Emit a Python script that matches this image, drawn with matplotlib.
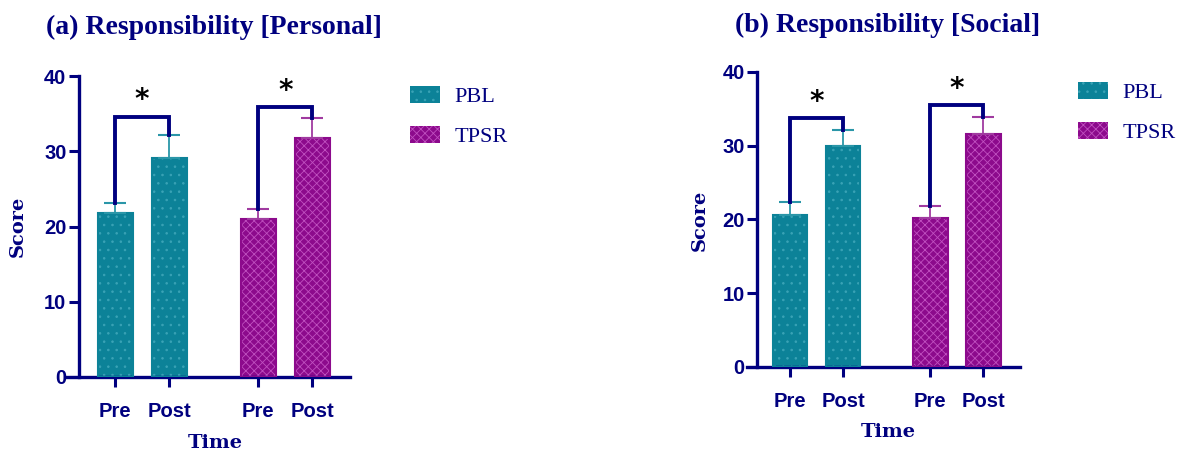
import matplotlib
matplotlib.use("Agg")
import matplotlib.pyplot as plt

# values
groups = ["PBL", "TPSR"]
tick_labels = ["Pre", "Post", "Pre", "Post"]

personal_mean = {"PBL": [21.8, 29.1], "TPSR": [21.0, 31.8]}
personal_err = {"PBL": [1.3, 3.1], "TPSR": [1.3, 2.6]}
social_mean = {"PBL": [20.6, 30.0], "TPSR": [20.2, 31.6]}
social_err = {"PBL": [1.8, 2.1], "TPSR": [1.6, 2.3]}

NAVY = "#00007f"
COLORS = {"PBL": "#0c8298", "TPSR": "#8c0a8c"}
HATCH_COL = {"PBL": "#3aa3b6", "TPSR": "#c050c0"}
HATCHES = {"PBL": "..", "TPSR": "xxxx"}
ERR_COL = {"PBL": "#2a96a8", "TPSR": "#a03aa0"}

plt.rcParams["hatch.linewidth"] = 0.6

positions = {"PBL": [0, 1], "TPSR": [2.65, 3.65]}
W, H = 1180, 454

fig = plt.figure(figsize=(W / 100, H / 100), dpi=100)


def panel(px_left, px_right, px_bottom, px_top, xmin, xmax, yaxis_x,
          means, errs, title, title_xy, score_xy, time_xy, leg_xy, offsets):
    ax = fig.add_axes([px_left / W, 1 - px_bottom / H,
                       (px_right - px_left) / W, (px_bottom - px_top) / H])
    handles = []
    for g in groups:
        b = ax.bar(positions[g], means[g], width=0.65, color=COLORS[g],
                   edgecolor=HATCH_COL[g], hatch=HATCHES[g], linewidth=0,
                   zorder=2)
        # darker outline on top of the hatch
        ax.bar(positions[g], means[g], width=0.65, fill=False,
               edgecolor=COLORS[g], linewidth=1.5, zorder=3)
        ax.errorbar(positions[g], means[g],
                    yerr=[[0, 0], errs[g]], fmt="none", ecolor=ERR_COL[g],
                    elinewidth=1.3, capsize=8, capthick=1.5, zorder=4)
        handles.append(b)

    # significance brackets
    for g, off in zip(groups, offsets):
        x0, x1 = positions[g]
        tops = [m + e for m, e in zip(means[g], errs[g])]
        yb = max(tops) + off
        ax.plot([x0, x0, x1, x1], [tops[0], yb, yb, tops[1]], color=NAVY,
                lw=2.8, solid_joinstyle="miter", zorder=5)
        ax.text((x0 + x1) / 2, yb + 0.3, "*", ha="center", va="bottom",
                fontsize=20, fontweight="bold", color="black")

    ax.set_xlim(xmin, xmax)
    ax.set_ylim(0, 40)
    ax.spines["left"].set_position(("data", yaxis_x))
    ax.spines["top"].set_visible(False)
    ax.spines["right"].set_visible(False)
    for s in ["left", "bottom"]:
        ax.spines[s].set_color(NAVY)
        ax.spines[s].set_linewidth(2.4)
    ax.set_yticks([0, 10, 20, 30, 40])
    ax.set_xticks(positions["PBL"] + positions["TPSR"])
    ax.set_xticklabels(tick_labels)
    ax.tick_params(colors=NAVY, width=2.2, length=7, direction="out",
                   labelsize=14.5)
    for lab in ax.get_xticklabels() + ax.get_yticklabels():
        lab.set_fontfamily("Liberation Sans")
        lab.set_fontweight("bold")
        lab.set_color(NAVY)
    ax.tick_params(axis="y", pad=2)
    ax.tick_params(axis="x", pad=11)

    fig.text(title_xy[0] / W, 1 - title_xy[1] / H, title, ha="center",
             va="center", fontsize=20, fontweight="bold",
             family="Liberation Serif", color=NAVY)
    fig.text(score_xy[0] / W, 1 - score_xy[1] / H, "Score", ha="center",
             va="center", rotation=90, fontsize=14, fontweight="bold",
             family="DejaVu Serif", color=NAVY)
    fig.text(time_xy[0] / W, 1 - time_xy[1] / H, "Time", ha="center",
             va="center", fontsize=14, fontweight="bold",
             family="DejaVu Serif", color=NAVY)
    leg = fig.legend(handles, groups, loc="upper left",
                     bbox_to_anchor=(leg_xy[0] / W, 1 - leg_xy[1] / H),
                     frameon=False, handlelength=1.35, handleheight=0.8,
                     labelspacing=0.85, handletextpad=0.65, borderpad=0,
                     borderaxespad=0,
                     prop={"family": "Liberation Serif", "size": 16})
    for t in leg.get_texts():
        t.set_color(NAVY)
    return ax


panel(67, 350, 377, 76, -0.89, 4.35, -0.67,
      personal_mean, personal_err, "(a) Responsibility [Personal]",
      (214, 27), (18, 226), (215, 443), (410, 86), [2.4, 1.5])
panel(747, 1020, 367, 72, -0.81, 4.34, -0.62,
      social_mean, social_err, "(b) Responsibility [Social]",
      (888, 25), (700, 220), (888, 432), (1078, 82), [1.7, 1.6])

fig.savefig("out.png", dpi=100)
